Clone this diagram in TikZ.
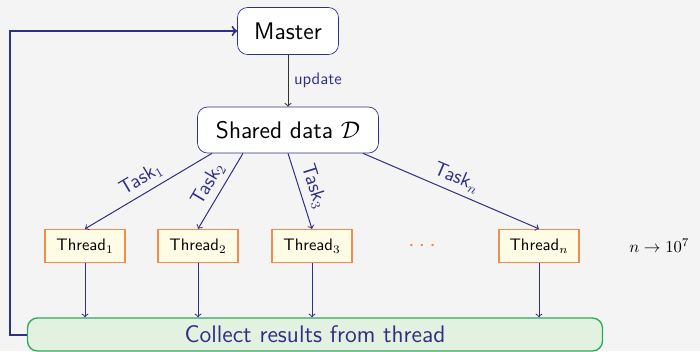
\documentclass[tikz,border=0pt]{standalone}
\usetikzlibrary{calc}
\definecolor{navy}{HTML}{2E3086}
\definecolor{thrborder}{HTML}{F08C4E}
\definecolor{thrfill}{HTML}{FFFCE5}
\definecolor{colborder}{HTML}{2EAA5C}
\definecolor{colfill}{HTML}{E2F1E0}
\definecolor{bggray}{HTML}{F4F4F4}
\begin{document}
\begin{tikzpicture}[x=0.6pt,y=-0.6pt,every node/.style={font=\sffamily},
  mainbox/.style={draw=navy,fill=white,rounded corners=6pt,font=\sffamily\Large},
  thread/.style={draw=thrborder,fill=thrfill,line width=0.8pt,minimum width=48pt,minimum height=19.8pt,inner sep=2pt},
  task/.style={->,navy,semithick},
  tasklabel/.style={navy,sloped,above,pos=0.5,font=\sffamily\large}]
  \fill[bggray] (0,0) rectangle (700,351);
  \useasboundingbox (0,0) rectangle (700,351);
  \clip (0,0) rectangle (700,351);
  \node[mainbox,minimum width=60.6pt,minimum height=28.2pt] (master) at (288,31) {Master};
  \node[mainbox,minimum width=108.6pt,minimum height=27.6pt] (shared) at (288,130) {Shared data $\mathcal{D}$};
  \node[thread] (thr1) at (85,246) {Thread$_1$};
  \node[thread] (thr2) at (198,246) {Thread$_2$};
  \node[thread] (thr3) at (312,246) {Thread$_3$};
  \node[thread] (thrn) at (539,246) {Thread$_n$};
  \node[text=thrborder,font=\Large] (dots) at (422,246) {$\cdots$};
  \node[anchor=west,inner sep=0pt] (limit) at (629,246) {$n \to 10^7$};
  \node[draw=colborder,fill=colfill,line width=0.8pt,rounded corners=6pt,minimum width=345pt,minimum height=19.8pt,
        text=navy,font=\sffamily\Large] (collect) at (315,334.5) {Collect results from thread};
  \draw[->,semithick,black!80] (master) -- node[right,navy] {update} (shared);
  \draw[task] ($(shared.south)+(-76,0)$) -- node[tasklabel] {Task$_1$} (thr1.north);
  \draw[task] ($(shared.south)+(-45,0)$) -- node[tasklabel] {Task$_2$} (thr2.north);
  \draw[task] (shared.south) -- node[tasklabel] {Task$_3$} (thr3.north);
  \draw[task] ($(shared.south)+(75,0)$) -- node[tasklabel] {Task$_n$} (thrn.north);
  \foreach \t in {thr1,thr2,thr3,thrn}
    \draw[task] (\t.south) -- (\t.south |- collect.north);
  \draw[->,navy,line width=1.2pt] (collect.west) -- ++(-17,0) |- (master.west);
\end{tikzpicture}
\end{document}
